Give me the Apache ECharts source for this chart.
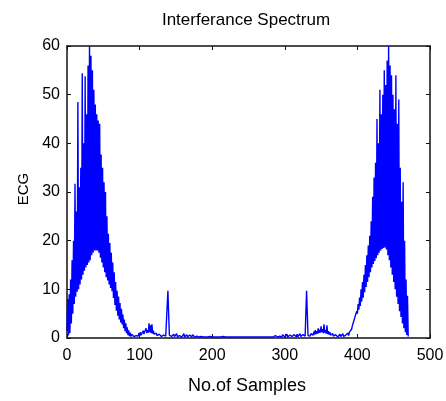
<!DOCTYPE html>
<html>
<head>
<meta charset="utf-8">
<script src="https://cdn.jsdelivr.net/npm/echarts@6/dist/echarts.min.js"></script>
<style>
html,body{margin:0;padding:0;background:#fff;}
#chart{width:446px;height:401px;}
</style>
</head>
<body>
<div id="chart"></div>
<script>
// Samples 0..89 : left lobe
var leftLobe = [
  1.5, 8, 0.5, 9, 1, 12, 3, 16, 5, 20,
  7, 31.7, 8.5, 26, 9.5, 48.5, 10, 31, 11, 35,
  12, 54.4, 13, 40, 13.8, 53.8, 14.5, 46, 15, 56,
  15.5, 60, 16, 58, 17, 55, 17.5, 51, 18, 48,
  18, 46, 18, 44.7, 17.5, 44, 16.5, 37.7, 15.5, 35,
  14.5, 32, 13.5, 30, 12.5, 25, 11.8, 21.4, 11, 19.5,
  10.3, 17.5, 9.6, 15.5, 8.2, 13.5, 6.8, 11.5, 5.6, 9.7,
  4.6, 8.5, 3.8, 7.2, 3.2, 6, 2.8, 4.8, 2, 3.8,
  1.4, 3, 1, 2.2, 0.6, 1.6, 0.4, 1.1, 0.3, 0.8
];
// Samples 90..141 : small bump + spike
var bumpLeft = [
  0.5, 0.8, 0.3, 0.6, 0.2, 0.5, 0.3, 0.8, 0.4, 1.0,
  0.5, 1.2, 0.6, 1.0, 0.7, 1.5, 0.8, 1.3, 0.9, 2.0,
  1.0, 1.6, 1.1, 3.0, 1.2, 2.6, 1.0, 2.8, 0.9, 1.5,
  0.8, 1.2, 0.6, 1.0, 0.5, 0.9, 0.4, 0.8, 0.4, 1.0,
  0.3, 0.7, 0.3, 0.6, 0.3, 0.8, 0.4, 0.6, 0.5, 9.7,
  5.0, 0.6
];
// Samples 142..190
var quietA = [
  0.3, 0.9, 0.3, 0.6, 0.2, 0.8, 0.3, 0.5, 0.2, 0.9,
  0.3, 0.7, 0.2, 0.5, 0.3, 0.8, 0.2, 0.6, 0.3, 0.9,
  0.2, 0.5, 0.3, 0.7, 0.2, 0.4, 0.3, 0.6, 0.2, 0.5,
  0.2, 0.7, 0.3, 0.4, 0.2, 0.5, 0.2, 0.4, 0.3, 0.6,
  0.2, 0.4, 0.2, 0.3, 0.2, 0.5, 0.2, 0.3, 0.2
];
// Samples 191..281
var flat = [
  0.2, 0.2, 0.3, 0.2, 0.2, 0.2, 0.3, 0.2, 0.2, 0.2,
  0.2, 0.3, 0.2, 0.2, 0.2, 0.2, 0.2, 0.3, 0.2, 0.2,
  0.2, 0.2, 0.2, 0.2, 0.3, 0.2, 0.2, 0.2, 0.2, 0.2,
  0.2, 0.2, 0.3, 0.2, 0.2, 0.2, 0.2, 0.2, 0.2, 0.2,
  0.3, 0.2, 0.2, 0.2, 0.2, 0.2, 0.2, 0.3, 0.2, 0.2,
  0.2, 0.2, 0.2, 0.2, 0.2, 0.3, 0.2, 0.2, 0.2, 0.2,
  0.2, 0.3, 0.2, 0.2, 0.2, 0.2, 0.2, 0.2, 0.3, 0.2,
  0.2, 0.2, 0.2, 0.3, 0.2, 0.2, 0.2, 0.2, 0.2, 0.2,
  0.3, 0.2, 0.2, 0.2, 0.2, 0.2, 0.3, 0.2, 0.2, 0.2,
  0.2
];
// Samples 282..328
var quietB = [
  0.2, 0.4, 0.2, 0.3, 0.2, 0.5, 0.2, 0.4, 0.2, 0.6,
  0.3, 0.4, 0.2, 0.5, 0.2, 0.7, 0.3, 0.5, 0.2, 0.6,
  0.3, 0.8, 0.2, 0.5, 0.3, 0.6, 0.2, 0.9, 0.3, 0.5,
  0.2, 0.7, 0.3, 0.6, 0.2, 0.8, 0.3, 0.5, 0.2, 0.9,
  0.3, 0.6, 0.2, 0.7, 0.3, 0.8, 0.4
];
// Samples 329..384 : spike + small bump
var bumpRight = [
  0.6, 9.7, 5.0, 0.5, 0.3, 0.8, 0.4, 0.9, 0.5, 1.1,
  0.6, 1.3, 0.7, 1.6, 0.8, 1.4, 0.9, 2.0, 1.0, 1.7,
  1.1, 2.4, 1.2, 1.8, 1.0, 2.8, 1.1, 1.6, 0.9, 2.6,
  0.8, 1.4, 0.7, 1.2, 0.6, 1.0, 0.5, 0.9, 0.4, 0.8,
  0.3, 0.7, 0.3, 0.6, 0.2, 0.5, 0.3, 0.8, 0.3, 0.6,
  0.4, 0.9, 0.3, 0.7, 0.4, 0.6
];
// Samples 385..470 : right lobe
var rightLobe = [
  0.8, 0.3, 1.0, 0.5, 1.2, 1.0, 1.6, 1.8, 2.5, 2.6,
  3.5, 3.4, 4.5, 4.2, 5.5, 5.0, 7, 5.8, 8.3, 6.6,
  10, 7.5, 11.5, 8.3, 13, 9.4, 15, 10.5, 17, 11.5,
  19, 12.5, 21, 13.5, 24, 14.5, 29, 15.2, 33, 15.8,
  36, 16.4, 45, 17, 40, 17.5, 51, 18, 46, 18.3,
  50, 18.5, 55, 18.6, 52, 18.2, 57, 17, 60, 16,
  56, 14.5, 54, 13, 50, 11.5, 47, 10, 54, 8.5,
  44, 7, 49, 5.5, 35, 4.3, 28, 3, 32, 2,
  20, 1.2, 12, 0.6, 8.7, 0.3
];

var xTicks = [0, 100, 200, 300, 400, 500];
var yTicks = [0, 10, 20, 30, 40, 50, 60];
var titleText = 'Interferance Spectrum';
var xLabel = 'No.of Samples';
var yLabel = 'ECG';

var values = [].concat(leftLobe, bumpLeft, quietA, flat, quietB, bumpRight, rightLobe);
var seriesData = values.map(function (v, i) { return [i, v]; });

var chart = echarts.init(document.getElementById('chart'), null, {renderer: 'canvas'});
var font = "'Liberation Sans', Arial, sans-serif";
var frameLine = {show: true, onZero: false, lineStyle: {color: '#111', width: 1.5}};
var tickIn = {show: true, inside: true, length: 4, lineStyle: {color: '#111', width: 1}};

chart.setOption({
  animation: false,
  backgroundColor: '#fff',
  grid: {left: 67, right: 16, top: 46, bottom: 63, containLabel: false, outerBoundsMode: 'none'},
  xAxis: [
    {type: 'value', min: xTicks[0], max: xTicks[xTicks.length - 1], interval: 100, position: 'bottom',
     axisLine: frameLine, axisTick: tickIn, splitLine: {show: false},
     axisLabel: {show: true, margin: 10, fontSize: 16, color: '#000', fontFamily: font}},
    {type: 'value', min: xTicks[0], max: xTicks[xTicks.length - 1], interval: 100, position: 'top',
     axisLine: frameLine, axisTick: tickIn, splitLine: {show: false}, axisLabel: {show: false}}
  ],
  yAxis: [
    {type: 'value', min: yTicks[0], max: yTicks[yTicks.length - 1], interval: 10, position: 'left',
     axisLine: frameLine, axisTick: tickIn, splitLine: {show: false},
     axisLabel: {show: true, margin: 7, fontSize: 16, color: '#000', fontFamily: font}},
    {type: 'value', min: yTicks[0], max: yTicks[yTicks.length - 1], interval: 10, position: 'right',
     axisLine: frameLine, axisTick: tickIn, splitLine: {show: false}, axisLabel: {show: false}}
  ],
  graphic: [
    {type: 'text', x: 246, y: 20, style: {text: titleText, fontSize: 17, fontFamily: font, fill: '#000', align: 'center', verticalAlign: 'middle'}},
    {type: 'text', x: 247, y: 386, style: {text: xLabel, fontSize: 18, fontFamily: font, fill: '#000', align: 'center', verticalAlign: 'middle'}},
    {type: 'text', x: 23.5, y: 189, rotation: Math.PI / 2, style: {text: yLabel, fontSize: 15, fontFamily: font, fill: '#000', align: 'center', verticalAlign: 'middle'}}
  ],
  series: [{
    type: 'line',
    data: seriesData,
    xAxisIndex: 0, yAxisIndex: 0,
    showSymbol: false,
    symbol: 'none',
    lineStyle: {color: '#0000ff', width: 1.4},
    itemStyle: {color: '#0000ff'},
    clip: true
  }]
});
</script>
</body>
</html>
